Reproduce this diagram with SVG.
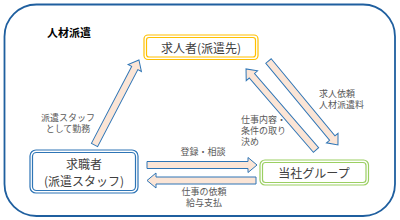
<svg xmlns="http://www.w3.org/2000/svg" width="400" height="220" viewBox="0 0 400 220">
<style>
.node{font-family:"Noto Sans CJK JP","Noto Sans",sans-serif;font-size:12px;fill:#404040;text-anchor:middle;dominant-baseline:central}
.lbl{font-family:"Liberation Sans","Noto Sans CJK JP",sans-serif;font-size:9px;fill:#595959;dominant-baseline:central}
.mid{text-anchor:middle}
.arr{fill:#FBE5D6;stroke:#2E75B6;stroke-width:1;stroke-linejoin:miter}
</style>
<rect x="4.5" y="4.5" width="390.5" height="211.5" rx="32" fill="#fff" stroke="#1F5F9F" stroke-width="1.8"/>
<text x="47" y="32" font-family="'Noto Sans CJK JP',sans-serif" font-size="11" font-weight="bold" fill="#000" dominant-baseline="central">人材派遣</text>
<g id="connectors">
<path class="arr" transform="translate(94.5,145) rotate(-62.4)" d="M0,-3.5H86.9V-7.5L95.9,0L86.9,7.5V3.5H0Z"/>
<path class="arr" transform="translate(316,150) rotate(-130.8)" d="M0,-3.5H98.1V-7.5L107.1,0L98.1,7.5V3.5H0Z"/>
<path class="arr" transform="translate(268.5,61) rotate(50.4)" d="M0,-3.5H100V-7.5L109,0L100,7.5V3.5H0Z"/>
<path class="arr" transform="translate(147,165)" d="M0,-3.5H101V-7.5L110,0L101,7.5V3.5H0Z"/>
<path class="arr" transform="translate(256,180.5) rotate(180)" d="M0,-3.5H100V-7.5L109,0L100,7.5V3.5H0Z"/>
<text class="lbl mid" x="68" y="118">派遣スタッフ</text>
<text class="lbl mid" x="68" y="129">として勤務</text>
<text class="lbl" x="319" y="94">求人依頼</text>
<text class="lbl" x="319" y="105">人材派遣料</text>
<text class="lbl" x="241" y="120">仕事内容・</text>
<text class="lbl" x="241" y="131">条件の取り</text>
<text class="lbl" x="241" y="142">決め</text>
<text class="lbl mid" x="203" y="152">登録・相談</text>
<text class="lbl mid" x="204" y="192">仕事の依頼</text>
<text class="lbl mid" x="204" y="203">給与支払</text>
</g>
<g id="client">
<rect x="144" y="35" width="114" height="24.5" rx="4" fill="#fff" stroke="#FFC000" stroke-width="1.2"/>
<rect x="146.5" y="37.5" width="109" height="19.5" rx="2.5" fill="#fff" stroke="#FFC000" stroke-width="1.2"/>
<text class="node" x="201" y="47">求人者(派遣先)</text>
</g>
<g id="staff">
<rect x="30" y="150" width="108" height="43" rx="6" fill="#fff" stroke="#2E75B6" stroke-width="1.2"/>
<rect x="32.5" y="152.5" width="103" height="38" rx="4" fill="#fff" stroke="#2E75B6" stroke-width="1.2"/>
<text class="node" x="84" y="163">求職者</text>
<text class="node" x="84" y="180">(派遣スタッフ)</text>
</g>
<g id="company">
<rect x="260" y="160" width="108.5" height="25" rx="5" fill="#fff" stroke="#9BCF62" stroke-width="1.2"/>
<rect x="262.5" y="162.5" width="103.5" height="20" rx="3" fill="#fff" stroke="#9BCF62" stroke-width="1.2"/>
<text class="node" x="314" y="172.5">当社グループ</text>
</g>
</svg>
